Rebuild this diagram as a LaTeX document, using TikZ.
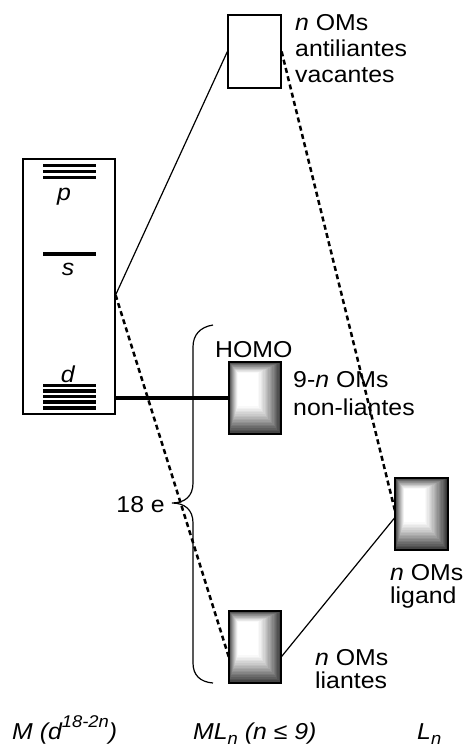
\documentclass[tikz,border=0pt]{standalone}
\usepackage{fontspec}
\setmainfont{Liberation Sans}[FakeStretch=1.08]
\usetikzlibrary{calc}
\newcommand\shadedbox[3]{%
  \node[sbox] (#1) at (#2,#3) {};
  \foreach \i in {0,...,18}{%
    \pgfmathsetmacro\t{\i/18}%
    \pgfmathsetmacro\q{78*(1-\t)^1.2}%
    \fill[black!\q] ($(#1.north west)+(9*\t,11*\t)$) rectangle ($(#1.south east)+(-23*\t,-28*\t)$);
  }
  \draw[line width=2.2pt] (#1.north west) rectangle (#1.south east);
}
\newcommand\supsz[1]{\raisebox{0.5em}{\fontsize{17}{17}\selectfont #1}}
\newcommand\subsz[1]{\raisebox{-0.22em}{\fontsize{17}{17}\selectfont #1}}
\begin{document}
\begin{tikzpicture}[x=1pt,y=-1pt,
  lbl/.style={inner sep=0pt, font=\fontsize{23}{26}\selectfont},
  thinline/.style={line width=1.2pt},
  dotline/.style={line width=2.5pt, dash pattern=on 5pt off 3.5pt},
  level/.style={line width=3.3pt},
  obox/.style={draw, line width=1.2pt, minimum width=53pt, minimum height=73pt, inner sep=0pt},
  sbox/.style={minimum width=52pt, minimum height=72pt, inner sep=0pt}
]
\useasboundingbox (0,0) rectangle (468,747);

% metal box and levels
\node[draw, thinline, minimum width=92pt, minimum height=255pt, inner sep=0pt] (metal) at (69,286.5) {};
\foreach \yy in {165.5,171.5,177.5} \draw[level] (43,\yy) -- (96,\yy);
\draw[level] (43,254) -- (96,254);
\foreach \yy in {385.5,391,396.5,402,408} \draw[level] (43,\yy) -- (96,\yy);
\node[lbl, anchor=base] (plab) at (64,200) {\textit{p}};
\node[lbl, anchor=base] (slab) at (68,275) {\textit{s}};
\node[lbl, anchor=base] (dlab) at (68,382) {\textit{d}};

% MO boxes
\node[obox] (top) at (254.5,51.5) {};
\shadedbox{homo}{255}{398}
\shadedbox{bot}{255}{647}
\shadedbox{lig}{421.5}{514}

% connectors
\coordinate (mconn) at ($(metal.east)+(0,8.5)$);
\draw[thinline] (mconn) -- (top.west);
\draw[dotline] (mconn) -- ([yshift=-10pt]bot.west);
\draw[line width=3.5pt] (metal.east |- homo.west) -- (homo.west);
\draw[dotline] (top.east) -- ([yshift=2pt]lig.west);
\draw[thinline] ([yshift=-10pt]bot.east) -- ([yshift=-3pt]lig.west);

% brace
\draw[thinline] (213,325) .. controls (200,327) and (193,335) .. (193,347) -- (193,483)
  .. controls (193,496) and (185,503) .. (172,503)
  .. controls (185,503) and (193,510) .. (193,523) -- (193,663)
  .. controls (193,675) and (200,682) .. (213,683);
\node[lbl, anchor=base east] (e18) at (165,512) {18 e};

% labels
\node[lbl, anchor=base west] (a1) at (295,30) {\textit{n} OMs};
\node[lbl, anchor=base west] (a2) at (295,56) {antiliantes};
\node[lbl, anchor=base west] (a3) at (295,82) {vacantes};
\node[lbl, anchor=base west] (hl) at (215,357) {HOMO};
\node[lbl, anchor=base west] (n1) at (293,387) {9-\textit{n} OMs};
\node[lbl, anchor=base west] (n2) at (293,415) {non-liantes};
\node[lbl, anchor=base west] (g1) at (390,580) {\textit{n} OMs};
\node[lbl, anchor=base west] (g2) at (390,603) {ligand};
\node[lbl, anchor=base west] (b1) at (315,665) {\textit{n} OMs};
\node[lbl, anchor=base west] (b2) at (315,688) {liantes};

% bottom titles
\node[lbl, anchor=base west] (mt) at (12,739) {\itshape M (d\supsz{18-2n})};
\node[lbl, anchor=base west] (mlt) at (193,739) {\itshape ML\subsz{n} (n ≤ 9)};
\node[lbl, anchor=base west] (lt) at (417,739) {\itshape L\subsz{n}};
\end{tikzpicture}
\end{document}
